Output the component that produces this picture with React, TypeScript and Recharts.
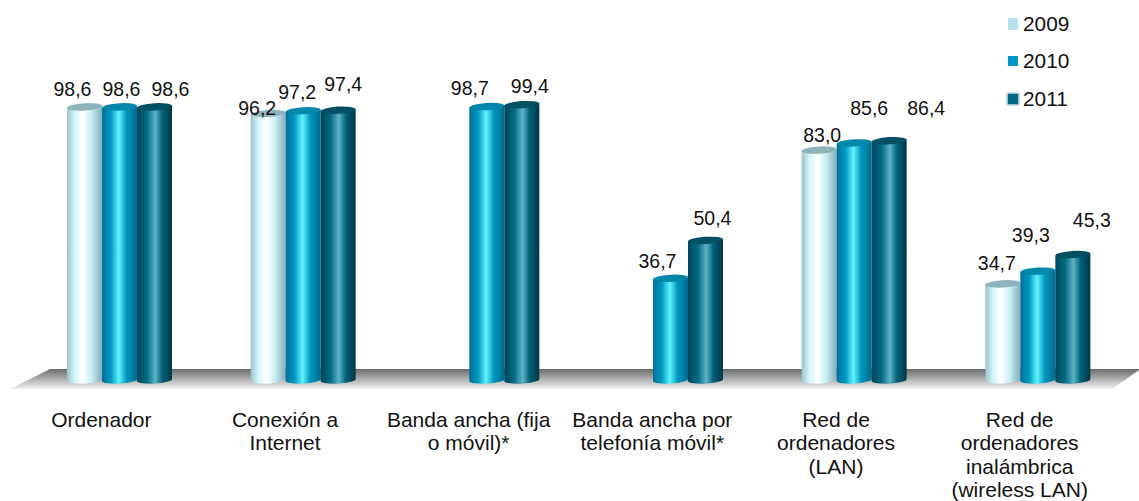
import React from "react";
import { BarChart, Bar, XAxis, YAxis, Legend, LabelList } from "recharts";

const CATEGORIES = [
  "Ordenador",
  "Conexión a Internet",
  "Banda ancha (fija o móvil)*",
  "Banda ancha por telefonía móvil*",
  "Red de ordenadores (LAN)",
  "Red de ordenadores inalámbrica (wireless LAN)",
];
const VALUES_2009 = [98.6, 96.2, null, null, 83.0, 34.7];
const VALUES_2010 = [98.6, 97.2, 98.7, 36.7, 85.6, 39.3];
const VALUES_2011 = [98.6, 97.4, 99.4, 50.4, 86.4, 45.3];

// wrapped the way the original axis wraps them
const CATEGORY_LINES = [
  ["Ordenador"],
  ["Conexión a", "Internet"],
  ["Banda ancha (fija", "o móvil)*"],
  ["Banda ancha por", "telefonía móvil*"],
  ["Red de", "ordenadores", "(LAN)"],
  ["Red de", "ordenadores", "inalámbrica", "(wireless LAN)"],
];

// labels were dragged by hand in the original: [dx, dy] from the top centre of each bar
const LABEL_SHIFT_2009 = [[-12, -11], [-11, 1.5], [0, 0], [0, 0], [3, -8], [-6, -13.5]];
const LABEL_SHIFT_2010 = [[2, -11], [-6, -12], [-17, -12], [-13, -10], [15, -28], [-7, -28.7]];
const LABEL_SHIFT_2011 = [[16, -11], [5, -19], [8, -12], [7, -15], [37, -26], [19, -28]];

const SERIES = [
  {
    key: "y2009", name: "2009", values: VALUES_2009, shift: LABEL_SHIFT_2009, cap: "#8fb3bc", swatch: "#b5e2ec",
    stops: [["0%", "#9cc4cc"], ["22%", "#d4f6fa"], ["45%", "#ffffff"], ["70%", "#c6eef4"], ["100%", "#86acb6"]],
  },
  {
    key: "y2010", name: "2010", values: VALUES_2010, shift: LABEL_SHIFT_2010, cap: "#0087ab", swatch: "#0098c6",
    stops: [["0%", "#00709a"], ["25%", "#0098c0"], ["48%", "#5ff4ff"], ["70%", "#0096bf"], ["100%", "#006a8c"]],
  },
  {
    key: "y2011", name: "2011", values: VALUES_2011, shift: LABEL_SHIFT_2011, cap: "#004f62", swatch: "#046a84",
    stops: [["0%", "#00465a"], ["28%", "#006a82"], ["52%", "#5db2c6"], ["72%", "#00607a"], ["100%", "#003644"]],
  },
];

const tableData = CATEGORIES.map((name, i) => ({
  name,
  y2009: VALUES_2009[i],
  y2010: VALUES_2010[i],
  y2011: VALUES_2011[i],
}));

const FONT = "'Liberation Sans', Arial, sans-serif";
const TILT = 1.2; // cylinder ends lean up towards the right
const CATEGORY_DX = -18.5; // axis text sits left of the bars because of the perspective

const Cylinder = (props: any) => {
  const { x, y, width, height, seriesIdx } = props;
  if (height == null || height <= 0) return null;
  const s = SERIES[seriesIdx];
  const rx = width / 2;
  const bottom = y + height;
  return (
    <g>
      <path
        d={`M${x},${y + TILT} L${x},${bottom + TILT} A${rx},3.5 -3 0 0 ${x + width},${bottom - TILT} L${x + width},${y - TILT} Z`}
        fill={`url(#cyl-${s.key})`}
      />
      <ellipse cx={x + rx} cy={y} rx={rx} ry={3.6} fill={s.cap} transform={`rotate(-3.5 ${x + rx} ${y})`} />
    </g>
  );
};

const ValueLabel = (props: any) => {
  const { x, y, width, value, index, seriesIdx } = props;
  if (value == null) return null;
  const s = SERIES[seriesIdx];
  // LabelList skips the empty bars, so its index counts only the drawn ones
  const drawn = s.values.map((v, i) => (v == null ? -1 : i)).filter((i) => i >= 0);
  const [dx, dy] = s.shift[drawn[index]];
  return (
    <text x={x + width / 2 + dx} y={y + dy} textAnchor="middle" fontFamily={FONT} fontSize={19.5} fill="#111">
      {value.toFixed(1).replace(".", ",")}
    </text>
  );
};

const CategoryTick = (props: any) => {
  const { x, y, index } = props;
  return (
    <text textAnchor="middle" fontFamily={FONT} fontSize={21} fill="#111">
      {CATEGORY_LINES[index].map((line, i) => (
        <tspan key={line + i} x={x + CATEGORY_DX} y={y + 39 + i * 23.3}>
          {line}
        </tspan>
      ))}
    </text>
  );
};

const LegendList = () => (
  <div style={{ fontFamily: FONT, fontSize: 20.8, color: "#111" }}>
    {SERIES.map((s, i) => (
      <div key={s.key} style={{ display: "flex", alignItems: "center", height: 37.5 }}>
        <span
          style={{
            width: 10,
            height: i === 0 ? 12 : 10,
            marginRight: 5,
            background: s.swatch,
            boxShadow: i === 2 ? "0 0 2px 1px #6aa3b3" : "none",
          }}
        />
        <span>{s.name}</span>
      </div>
    ))}
  </div>
);

export default function App() {
  return (
    <div style={{ position: "absolute", left: 0, top: 0, background: "#fff" }}>
      <BarChart
        width={1139}
        height={501}
        data={tableData}
        margin={{ top: 103, right: 9, bottom: 91, left: 28 }}
        barSize={35}
        barGap={0}
      >
        <defs>
          <linearGradient id="floor" x1="0" y1="0" x2="0" y2="1">
            <stop offset="0%" stopColor="#6b6b6b" />
            <stop offset="100%" stopColor="#f2f2f2" />
          </linearGradient>
          {SERIES.map((s) => (
            <linearGradient key={s.key} id={`cyl-${s.key}`} x1="0" y1="0" x2="1" y2="0">
              {s.stops.map(([off, col]) => (
                <stop key={off} offset={off} stopColor={col} />
              ))}
            </linearGradient>
          ))}
        </defs>
        <polygon points="50,369 1139,369 1139,370 1112,389 10,389" fill="url(#floor)" />
        <XAxis dataKey="name" axisLine={false} tickLine={false} interval={0} tick={<CategoryTick />} />
        <YAxis hide domain={[0, 100]} />
        <Legend
          content={<LegendList />}
          layout="horizontal"
          align="center"
          verticalAlign="middle"
          wrapperStyle={{ left: 1008, top: 5, width: 100 }}
        />
        {SERIES.map((s, si) => (
          <Bar
            key={s.key}
            dataKey={s.key}
            name={s.name}
            fill={s.swatch}
            isAnimationActive={false}
            shape={(p: any) => <Cylinder {...p} seriesIdx={si} />}
          >
            <LabelList dataKey={s.key} content={(p: any) => <ValueLabel {...p} seriesIdx={si} />} />
          </Bar>
        ))}
      </BarChart>
    </div>
  );
}
